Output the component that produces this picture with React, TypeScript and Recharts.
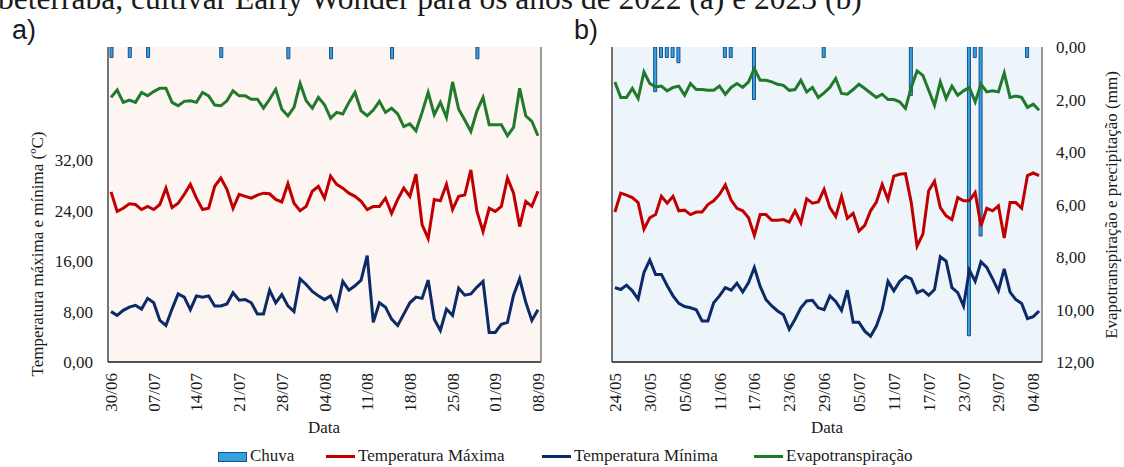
import React from 'react';
import { ComposedChart, Bar, Line, XAxis, YAxis, CartesianGrid } from 'recharts';

// 2022: 30/06 .. 08/09 ; 2023: 24/05 .. 05/08
const startA = { d: 30, m: 6, y: 2022, n: 71 };
const startB = { d: 24, m: 5, y: 2023, n: 74 };

const tmaxA = [
  27.0, 23.9, 24.4, 25.1, 25.0, 24.2, 24.7, 24.2, 25.0, 27.6,
  24.5, 25.2, 26.6, 28.2, 26.0, 24.2, 24.4, 27.9, 29.2, 27.4,
  24.4, 26.6, 26.3, 26.0, 26.5, 26.8, 26.7, 25.8, 25.4, 28.3,
  25.2, 24.0, 24.7, 27.1, 27.9, 26.0, 29.5, 28.2, 27.6, 26.8,
  26.3, 25.5, 24.2, 24.7, 24.7, 26.0, 23.6, 25.8, 27.6, 26.3,
  29.8, 21.8, 19.6, 25.8, 25.6, 28.2, 24.2, 26.3, 26.5, 30.5,
  23.9, 20.7, 24.4, 23.9, 24.7, 29.2, 26.8, 21.5, 25.5, 24.7, 27.1,
];
const tminA = [
  8.0, 7.4, 8.2, 8.7, 9.0, 8.4, 10.1, 9.4, 6.6, 5.8,
  8.4, 10.8, 10.3, 8.3, 10.5, 10.3, 10.5, 8.9, 8.9, 9.2,
  11.0, 9.8, 9.9, 9.4, 7.6, 7.6, 11.4, 9.4, 10.7, 8.9,
  8.0, 13.2, 12.3, 11.2, 10.5, 9.9, 10.5, 8.4, 12.8, 11.4,
  12.1, 13.0, 16.9, 6.3, 9.4, 8.7, 6.8, 5.8, 7.6, 9.4,
  10.3, 10.1, 13.0, 6.8, 5.0, 8.4, 7.4, 11.7, 10.6, 10.8,
  11.9, 12.8, 4.7, 4.7, 6.0, 6.3, 10.6, 13.2, 9.5, 6.6, 8.3,
];
const etA = [
  1.92, 1.64, 2.11, 2.02, 2.11, 1.73, 1.86, 1.70, 1.57, 1.57,
  2.11, 2.24, 2.07, 2.05, 2.11, 1.73, 1.86, 2.21, 2.24, 2.05,
  1.67, 1.86, 1.86, 1.99, 1.99, 2.33, 1.99, 1.61, 2.37, 2.62,
  2.30, 1.39, 2.05, 2.33, 1.92, 2.20, 2.71, 2.49, 2.55, 2.11,
  1.73, 2.43, 2.62, 2.40, 2.07, 2.49, 2.33, 2.55, 3.03, 2.93,
  3.19, 2.49, 1.73, 2.58, 2.11, 2.68, 1.33, 2.37, 2.78, 3.22,
  2.43, 1.92, 2.96, 2.96, 2.96, 3.38, 3.06, 1.57, 2.62, 2.83, 3.38,
];
const rainDaysA = ['30/06', '03/07', '06/07', '18/07', '29/07', '05/08', '15/08', '29/08'];
const rainMmA = [0.4, 0.4, 0.4, 0.4, 0.45, 0.45, 0.45, 0.45];

const tmaxB = [
  23.8, 26.8, 26.5, 26.1, 25.3, 21.1, 22.9, 23.4, 26.3, 25.2,
  26.3, 24.0, 24.1, 23.4, 23.8, 23.8, 25.0, 25.6, 26.6, 28.1,
  25.7, 24.4, 24.0, 22.9, 20.1, 23.4, 23.4, 22.5, 22.5, 22.6,
  22.2, 24.0, 22.1, 25.9, 25.2, 25.4, 27.4, 24.5, 23.1, 26.3,
  22.8, 23.6, 20.8, 21.7, 24.0, 25.4, 28.2, 25.8, 29.5, 29.8,
  29.9, 25.3, 18.4, 20.3, 27.2, 28.7, 24.5, 23.2, 22.6, 26.1,
  25.6, 25.6, 26.9, 21.6, 24.4, 24.0, 24.8, 19.7, 25.3, 25.3,
  24.4, 29.6, 30.0, 29.6,
];
const tminB = [
  11.8, 11.5, 12.2, 11.3, 10.0, 14.2, 16.2, 13.9, 13.9, 12.1,
  10.5, 9.3, 8.8, 8.6, 8.3, 6.5, 6.5, 9.4, 10.5, 11.8,
  11.4, 12.5, 11.1, 12.6, 15.0, 12.0, 9.9, 8.9, 8.1, 7.5,
  5.2, 6.8, 8.6, 9.7, 9.8, 8.6, 8.3, 10.5, 9.6, 8.2,
  11.4, 6.3, 6.3, 4.9, 4.1, 5.7, 8.3, 12.8, 11.3, 12.8,
  13.6, 13.2, 11.0, 11.4, 10.6, 11.5, 16.7, 16.0, 11.8, 11.0,
  8.9, 14.6, 12.8, 15.9, 15.0, 13.2, 11.3, 14.8, 11.1, 9.9,
  9.3, 6.9, 7.2, 8.1,
];
const etB = [
  1.33, 1.92, 1.92, 1.58, 1.96, 0.95, 1.39, 1.52, 1.49, 1.67,
  1.54, 1.49, 1.84, 1.39, 1.62, 1.62, 1.65, 1.65, 1.49, 1.80,
  1.54, 1.39, 1.54, 1.33, 0.82, 1.27, 1.27, 1.33, 1.42, 1.46,
  1.65, 1.62, 1.27, 1.71, 1.54, 1.92, 1.75, 1.54, 1.20, 1.77,
  1.80, 1.62, 1.42, 1.58, 1.75, 1.92, 1.80, 2.00, 2.00, 2.09,
  2.34, 1.54, 0.91, 1.08, 1.65, 2.22, 1.33, 1.96, 1.49, 1.84,
  1.67, 1.54, 2.09, 1.42, 1.71, 1.67, 1.71, 0.99, 1.92, 1.87,
  1.92, 2.30, 2.18, 2.41,
];
const rainDaysB = ['31/05', '01/06', '02/06', '03/06', '04/06', '12/06', '13/06', '17/06', '29/06', '14/07', '24/07', '25/07', '26/07', '03/08'];
const rainMmB = [1.7, 0.4, 0.4, 0.4, 0.6, 0.4, 0.4, 2.0, 0.4, 1.85, 11.0, 0.4, 7.2, 0.4];

const tempTicks = [0, 8, 16, 24, 32];
const etTicks = [0, 2, 4, 6, 8, 10, 12];

const C_MAX = '#c00000';
const C_MIN = '#0c2a66';
const C_ET = '#217a2c';
const C_RAIN = '#35a2dd';
const C_RAIN_EDGE = '#1a4f8c';
const SERIF = '"Liberation Serif", "Times New Roman", serif';

function calendar(s: { d: number; m: number; y: number; n: number }) {
  const out: string[] = [];
  const dt = new Date(Date.UTC(s.y, s.m - 1, s.d));
  for (let i = 0; i < s.n; i++) {
    const dd = String(dt.getUTCDate()).padStart(2, '0');
    const mm = String(dt.getUTCMonth() + 1).padStart(2, '0');
    out.push(`${dd}/${mm}`);
    dt.setUTCDate(dt.getUTCDate() + 1);
  }
  return out;
}

function buildRows(days: string[], tmax: number[], tmin: number[], et: number[], rDays: string[], rMm: number[]) {
  return days.map((d, i) => {
    const k = rDays.indexOf(d);
    return { d, tmax: tmax[i], tmin: tmin[i], et: et[i], rain: k >= 0 ? rMm[k] : null };
  });
}

const dataA = buildRows(calendar(startA), tmaxA, tminA, etA, rainDaysA, rainMmA);
const dataB = buildRows(calendar(startB), tmaxB, tminB, etB, rainDaysB, rainMmB);

const fmt = (v: number) => v.toFixed(2).replace('.', ',');

const DateTick = (props: any) => {
  const { x, y, payload } = props;
  const bx = x + 6;
  return (
    <text x={bx} y={y} transform={`rotate(-90 ${bx} ${y})`} textAnchor="end" fontSize={17} fill="#1a1a1a"
      style={{ fontFamily: SERIF }}>
      {payload.value}
    </text>
  );
};

const tickStyle = { fontSize: 17, fill: '#1a1a1a', fontFamily: SERIF, style: { fontFamily: SERIF } };

function Panel({ data, side, bg, interval, width, margin }: any) {
  const left = side === 'left';
  return (
    <ComposedChart width={width} height={467} data={data} margin={margin} barCategoryGap={0}>
      <CartesianGrid yAxisId="t" horizontal={false} vertical={false} fill={bg} stroke="none" />
      <XAxis dataKey="d" interval={interval} tick={<DateTick />} tickLine={false} tickSize={0} tickMargin={11} height={60}
        axisLine={{ stroke: '#1a1a1a', strokeWidth: 1.5 }} />
      <XAxis xAxisId="top" dataKey="d" orientation="top" tick={false} tickLine={false} height={0}
        axisLine={{ stroke: '#8a8a8a', strokeWidth: 2 }} />
      <YAxis yAxisId="t" orientation="left" domain={[0, 50]} ticks={tempTicks} allowDataOverflow
        tick={left ? tickStyle : false}
        tickFormatter={fmt} tickLine={false} tickSize={0} tickMargin={15} width={left ? 60 : 1}
        axisLine={{ stroke: '#1a1a1a', strokeWidth: 1.2 }} />
      <YAxis yAxisId="e" orientation="right" domain={[0, 12]} ticks={etTicks} reversed allowDataOverflow
        tick={!left ? tickStyle : false}
        tickFormatter={fmt} tickLine={false} tickSize={0} tickMargin={14} width={left ? 1 : 70}
        axisLine={{ stroke: '#7a7a7a', strokeWidth: 1.5 }} />
      <Bar yAxisId="e" dataKey="rain" barSize={3} fill={C_RAIN} stroke={C_RAIN_EDGE} strokeWidth={1} isAnimationActive={false} />
      <Line yAxisId="t" dataKey="tmax" type="linear" stroke={C_MAX} strokeWidth={3} dot={false} isAnimationActive={false} />
      <Line yAxisId="t" dataKey="tmin" type="linear" stroke={C_MIN} strokeWidth={3} dot={false} isAnimationActive={false} />
      <Line yAxisId="e" dataKey="et" type="linear" stroke={C_ET} strokeWidth={3} dot={false} isAnimationActive={false} />
    </ComposedChart>
  );
}

const abs = (x: number, y: number, extra: any = {}) => ({ position: 'absolute' as const, left: x, top: y, whiteSpace: 'nowrap' as const, ...extra });

function LegendLine({ x, color, label, textX }: any) {
  return (
    <>
      <div style={abs(x, 455, { width: 29, height: 3, background: color })} />
      <span style={abs(textX, 446, { fontSize: 17, lineHeight: '20px', color: '#1a1a1a' })}>{label}</span>
    </>
  );
}

export default function App() {
  return (
    <div style={{ position: 'absolute', left: 0, top: 0, width: 1124, height: 467, background: '#fff', overflow: 'hidden', fontFamily: SERIF, color: '#1a1a1a' }}>
      <div style={abs(-2, -19, { fontSize: 31.5, lineHeight: '36px' })}>beterraba, cultivar Early Wonder para os anos de 2022 (a) e 2023 (b)</div>
      <div style={abs(12, 14, { fontSize: 27, lineHeight: '32px', fontFamily: '"Liberation Sans", Arial, sans-serif' })}>a)</div>
      <div style={abs(574, 14, { fontSize: 27, lineHeight: '32px', fontFamily: '"Liberation Sans", Arial, sans-serif' })}>b)</div>

      <div style={abs(0, 0)}>
        <Panel data={dataA} side="left" bg="#fcf5f2" interval={6} width={560} margin={{ top: 47, right: 18, bottom: 45, left: 48 }} />
      </div>
      <div style={abs(560, 0)}>
        <Panel data={dataB} side="right" bg="#edf5fb" interval={5} width={564} margin={{ top: 47, right: 12, bottom: 45, left: 51 }} />
      </div>

      <div style={abs(38, 254, { fontSize: 17, transform: 'translate(-50%, -50%) rotate(-90deg)' })}>Temperatura máxima e mínima (ºC)</div>
      <div style={abs(1112, 205, { fontSize: 17, transform: 'translate(-50%, -50%) rotate(-90deg)' })}>Evapotranspiração e precipitação (mm)</div>

      <div style={abs(324, 428, { fontSize: 17, transform: 'translate(-50%, -50%)' })}>Data</div>
      <div style={abs(827, 428, { fontSize: 17, transform: 'translate(-50%, -50%)' })}>Data</div>

      <div style={abs(218, 452, { width: 27, height: 8, background: C_RAIN, border: `1px solid ${C_RAIN_EDGE}` })} />
      <span style={abs(250, 446, { fontSize: 17, lineHeight: '20px' })}>Chuva</span>
      <LegendLine x={326} color={C_MAX} label="Temperatura Máxima" textX={358} />
      <LegendLine x={542} color={C_MIN} label="Temperatura Mínima" textX={574} />
      <LegendLine x={754} color={C_ET} label="Evapotranspiração" textX={786} />
    </div>
  );
}
